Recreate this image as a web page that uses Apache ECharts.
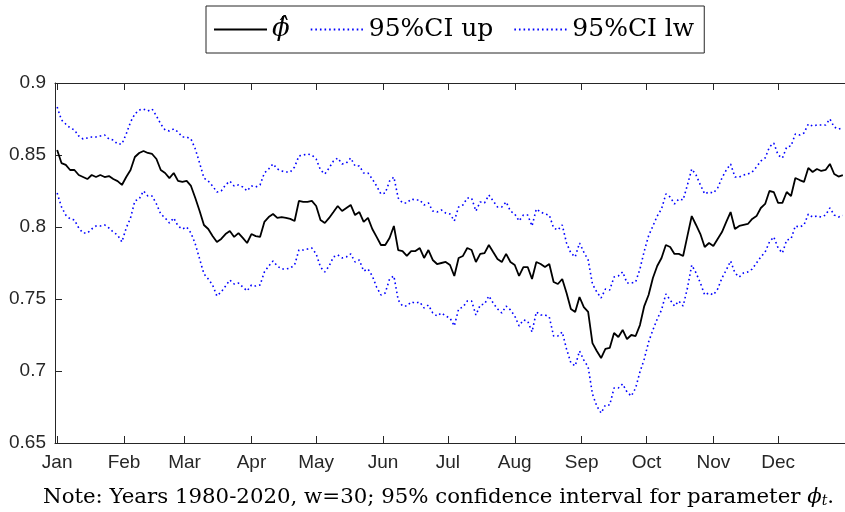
<!DOCTYPE html>
<html>
<head>
<meta charset="utf-8">
<script src="https://cdn.jsdelivr.net/npm/echarts@6/dist/echarts.min.js"></script>
<style>
  html, body { margin: 0; padding: 0; background: #ffffff; }
  #chart { width: 845px; height: 512px; }
</style>
</head>
<body>
<div id="chart"></div>
<script>
// Month boundaries (day of year) and their labels
const monthStart = [1, 32, 60, 91, 121, 152, 182, 213, 244, 274, 305, 335];
const monthNames = ['Jan', 'Feb', 'Mar', 'Apr', 'May', 'Jun', 'Jul', 'Aug', 'Sep', 'Oct', 'Nov', 'Dec'];
const yTickLabels = ['0.65', '0.7', '0.75', '0.8', '0.85', '0.9'];

// Estimated persistence parameter, every second day of the year (day 1, 3, 5, ...)
const phiHat = [
  0.8535, 0.8444, 0.8431, 0.8396, 0.8396, 0.8361, 0.8347, 0.8333, 0.8361, 0.8347,
  0.8361, 0.8347, 0.8354, 0.8333, 0.8319, 0.8292, 0.8347, 0.8396, 0.8486, 0.8514,
  0.8528, 0.8514, 0.8507, 0.8472, 0.8396, 0.8375, 0.8340, 0.8375, 0.8320, 0.8313,
  0.8320, 0.8285, 0.8201, 0.8111, 0.8014, 0.7986, 0.7937, 0.7896, 0.7917, 0.7951,
  0.7972, 0.7931, 0.7958, 0.7924, 0.7889, 0.7951, 0.7937, 0.7931, 0.8035, 0.8069,
  0.8090, 0.8063, 0.8069, 0.8063, 0.8056, 0.8042, 0.8181, 0.8174, 0.8174, 0.8181,
  0.8146, 0.8049, 0.8028, 0.8063, 0.8104, 0.8146, 0.8111, 0.8132, 0.8153, 0.8083,
  0.8104, 0.8035, 0.8063, 0.7986, 0.7931, 0.7875, 0.7875, 0.7924, 0.8007, 0.7840,
  0.7833, 0.7799, 0.7833, 0.7833, 0.7854, 0.7785, 0.7840, 0.7771, 0.7743, 0.7750,
  0.7757, 0.7736, 0.7660, 0.7785, 0.7799, 0.7854, 0.7840, 0.7757, 0.7813, 0.7819,
  0.7875, 0.7826, 0.7778, 0.7757, 0.7813, 0.7757, 0.7736, 0.7660, 0.7722, 0.7722,
  0.7639, 0.7757, 0.7743, 0.7722, 0.7743, 0.7618, 0.7604, 0.7639, 0.7542, 0.7431,
  0.7410, 0.7514, 0.7444, 0.7410, 0.7194, 0.7139, 0.7090, 0.7153, 0.7160, 0.7264,
  0.7236, 0.7285, 0.7222, 0.7250, 0.7243, 0.7319, 0.7451, 0.7528, 0.7646, 0.7729,
  0.7785, 0.7875, 0.7861, 0.7813, 0.7813, 0.7799, 0.7938, 0.8076, 0.8014, 0.7951,
  0.7861, 0.7889, 0.7868, 0.7917, 0.7965, 0.8035, 0.8104, 0.7986, 0.8007, 0.8014,
  0.8021, 0.8056, 0.8076, 0.8132, 0.8160, 0.8250, 0.8243, 0.8167, 0.8167, 0.8243,
  0.8215, 0.8340, 0.8326, 0.8313, 0.8410, 0.8382, 0.8403, 0.8389, 0.8396, 0.8438,
  0.8368, 0.8350, 0.8360
];

// Upper bound of the 95% confidence interval
const ciUp = [
  0.8833, 0.8743, 0.8715, 0.8688, 0.8674, 0.8632, 0.8611, 0.8618, 0.8625, 0.8625,
  0.8632, 0.8639, 0.8611, 0.8604, 0.8576, 0.8576, 0.8646, 0.8729, 0.8785, 0.8813,
  0.8819, 0.8806, 0.8819, 0.8771, 0.8715, 0.8674, 0.8667, 0.8681, 0.8660, 0.8625,
  0.8625, 0.8611, 0.8542, 0.8444, 0.8340, 0.8319, 0.8285, 0.8243, 0.8250, 0.8292,
  0.8319, 0.8285, 0.8292, 0.8278, 0.8250, 0.8285, 0.8278, 0.8292, 0.8375, 0.8403,
  0.8438, 0.8403, 0.8389, 0.8382, 0.8382, 0.8417, 0.8493, 0.8500, 0.8507, 0.8500,
  0.8472, 0.8396, 0.8368, 0.8410, 0.8458, 0.8479, 0.8438, 0.8444, 0.8479, 0.8424,
  0.8424, 0.8375, 0.8375, 0.8333, 0.8285, 0.8229, 0.8236, 0.8319, 0.8347, 0.8201,
  0.8167, 0.8167, 0.8194, 0.8188, 0.8188, 0.8153, 0.8167, 0.8111, 0.8104, 0.8118,
  0.8097, 0.8090, 0.8042, 0.8139, 0.8153, 0.8201, 0.8201, 0.8111, 0.8174, 0.8167,
  0.8222, 0.8181, 0.8139, 0.8139, 0.8174, 0.8111, 0.8090, 0.8042, 0.8083, 0.8083,
  0.8007, 0.8125, 0.8104, 0.8090, 0.8083, 0.7993, 0.7979, 0.8014, 0.7889, 0.7819,
  0.7792, 0.7889, 0.7826, 0.7771, 0.7604, 0.7549, 0.7507, 0.7569, 0.7563, 0.7653,
  0.7660, 0.7688, 0.7611, 0.7611, 0.7618, 0.7708, 0.7833, 0.7938, 0.8007, 0.8076,
  0.8125, 0.8229, 0.8208, 0.8160, 0.8194, 0.8188, 0.8292, 0.8403, 0.8361, 0.8292,
  0.8229, 0.8243, 0.8236, 0.8271, 0.8340, 0.8396, 0.8438, 0.8347, 0.8347, 0.8361,
  0.8368, 0.8382, 0.8417, 0.8458, 0.8479, 0.8556, 0.8583, 0.8500, 0.8479, 0.8556,
  0.8563, 0.8646, 0.8639, 0.8653, 0.8715, 0.8701, 0.8708, 0.8708, 0.8708, 0.8750,
  0.8694, 0.8680, 0.8690
];

// Lower bound of the 95% confidence interval
const ciLw = [
  0.8236, 0.8139, 0.8083, 0.8056, 0.8049, 0.7993, 0.7958, 0.7958, 0.7986, 0.8007,
  0.8007, 0.8014, 0.7993, 0.7965, 0.7944, 0.7896, 0.7993, 0.8063, 0.8181, 0.8194,
  0.8250, 0.8215, 0.8215, 0.8160, 0.8090, 0.8063, 0.8028, 0.8063, 0.8007, 0.7986,
  0.8000, 0.7958, 0.7882, 0.7778, 0.7674, 0.7639, 0.7597, 0.7521, 0.7549, 0.7590,
  0.7632, 0.7604, 0.7611, 0.7583, 0.7556, 0.7597, 0.7590, 0.7597, 0.7687, 0.7729,
  0.7764, 0.7729, 0.7708, 0.7708, 0.7715, 0.7736, 0.7840, 0.7840, 0.7847, 0.7854,
  0.7813, 0.7722, 0.7688, 0.7729, 0.7792, 0.7806, 0.7785, 0.7792, 0.7813, 0.7757,
  0.7771, 0.7694, 0.7708, 0.7660, 0.7583, 0.7528, 0.7542, 0.7639, 0.7660, 0.7493,
  0.7451, 0.7451, 0.7479, 0.7472, 0.7479, 0.7438, 0.7458, 0.7403, 0.7382, 0.7403,
  0.7382, 0.7368, 0.7313, 0.7431, 0.7444, 0.7486, 0.7486, 0.7389, 0.7458, 0.7465,
  0.7521, 0.7472, 0.7431, 0.7403, 0.7451, 0.7424, 0.7382, 0.7313, 0.7354, 0.7347,
  0.7271, 0.7410, 0.7389, 0.7389, 0.7375, 0.7243, 0.7243, 0.7271, 0.7153, 0.7056,
  0.7035, 0.7139, 0.7076, 0.7028, 0.6840, 0.6757, 0.6708, 0.6764, 0.6764, 0.6882,
  0.6882, 0.6910, 0.6854, 0.6826, 0.6882, 0.6993, 0.7083, 0.7201, 0.7285, 0.7361,
  0.7424, 0.7535, 0.7493, 0.7451, 0.7486, 0.7451, 0.7576, 0.7736, 0.7681, 0.7611,
  0.7528, 0.7542, 0.7528, 0.7569, 0.7646, 0.7701, 0.7764, 0.7681, 0.7653, 0.7681,
  0.7688, 0.7708, 0.7750, 0.7792, 0.7826, 0.7896, 0.7931, 0.7854, 0.7819, 0.7910,
  0.7917, 0.8007, 0.8000, 0.8014, 0.8090, 0.8069, 0.8076, 0.8069, 0.8083, 0.8132,
  0.8083, 0.8070, 0.8080
];

// Day of year for each sample
const sampleDay = phiHat.map((_, i) => 1 + 2 * i);
const pairs = (vals) => vals.map((v, i) => [sampleDay[i], v]);

const axisColor = '#262626';
const serif = 'DejaVu Serif';
const tickFont = { fontFamily: 'Liberation Sans', fontSize: 19, color: axisColor };

const chart = echarts.init(document.getElementById('chart'), null, { renderer: 'canvas' });

const monthAxis = (pos, showLabels) => ({
  type: 'value',
  position: pos,
  min: 0,
  max: 366,
  splitLine: { show: false },
  axisLine: { show: true, onZero: false, lineStyle: { color: axisColor, width: 1 } },
  axisTick: { show: true, inside: true, length: 7, customValues: monthStart,
              lineStyle: { color: axisColor, width: 1 } },
  axisLabel: {
    show: showLabels,
    customValues: monthStart,
    margin: 10,
    ...tickFont,
    formatter: (v) => monthNames[monthStart.indexOf(Math.round(v))] || ''
  }
});

chart.setOption({
  animation: false,
  backgroundColor: '#ffffff',
  grid: { left: 55, top: 83, width: 800, height: 360, containLabel: false },
  legend: {
    left: 206,
    top: 6,
    orient: 'horizontal',
    selectedMode: false,
    itemWidth: 53,
    itemHeight: 14,
    itemGap: 20,
    padding: [10, 10, 10, 7],
    borderColor: axisColor,
    borderWidth: 1,
    itemStyle: { opacity: 0 },
    textStyle: {
      fontFamily: serif,
      fontSize: 25,
      lineHeight: 27,
      color: '#000000',
      rich: {
        phi: { fontFamily: serif, fontStyle: 'italic', fontSize: 26, lineHeight: 27, color: '#000000' }
      }
    },
    formatter: (name) => name === 'phi' ? '{phi|\u03D5\u0302}' : name,
    data: ['phi', '95%CI up', '95%CI lw']
  },
  title: {
    text: 'Note: Years 1980-2020, w=30; 95% confidence interval for parameter {i|\u03D5}{s|t}.',
    left: 43,
    top: 486,
    padding: 0,
    textStyle: {
      fontFamily: serif,
      fontSize: 21.3,
      fontWeight: 'normal',
      color: '#000000',
      rich: {
        i: { fontFamily: serif, fontStyle: 'italic', fontSize: 21.3, color: '#000000' },
        s: { fontFamily: serif, fontStyle: 'italic', fontSize: 14, color: '#000000',
             verticalAlign: 'bottom', padding: [8, 0, 0, 0] }
      }
    }
  },
  xAxis: [monthAxis('bottom', true), monthAxis('top', false)],
  yAxis: {
    type: 'value',
    min: 0.65,
    max: 0.9,
    interval: 0.05,
    splitLine: { show: false },
    axisLine: { show: true, lineStyle: { color: axisColor, width: 1 } },
    axisTick: { show: true, inside: true, length: 7, lineStyle: { color: axisColor, width: 1 } },
    axisLabel: {
      margin: 9,
      ...tickFont,
      formatter: (v) => yTickLabels[Math.round((v - 0.65) / 0.05)]
    }
  },
  series: [
    {
      name: 'phi',
      type: 'line',
      xAxisIndex: 0,
      data: pairs(phiHat),
      symbol: 'none',
      lineStyle: { color: '#000000', width: 1.8 },
      itemStyle: { color: '#000000' },
      z: 3
    },
    {
      name: '95%CI up',
      type: 'line',
      xAxisIndex: 0,
      data: pairs(ciUp),
      symbol: 'none',
      lineStyle: { color: '#0000ff', width: 1.6, type: [1.6, 3] },
      itemStyle: { color: '#0000ff' },
      z: 2
    },
    {
      name: '95%CI lw',
      type: 'line',
      xAxisIndex: 0,
      data: pairs(ciLw),
      symbol: 'none',
      lineStyle: { color: '#0000ff', width: 1.6, type: [1.6, 3] },
      itemStyle: { color: '#0000ff' },
      z: 2
    }
  ]
});
</script>
</body>
</html>
